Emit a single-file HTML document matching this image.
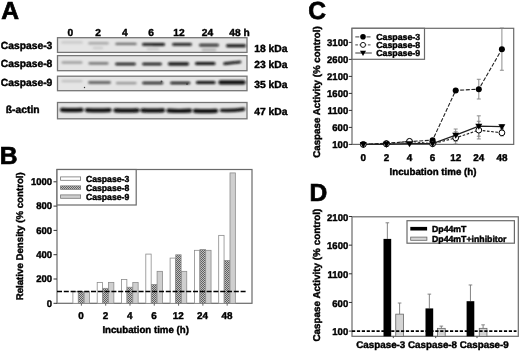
<!DOCTYPE html>
<html><head><meta charset="utf-8"><title>Figure</title>
<style>
html,body{margin:0;padding:0;background:#fff;}
body{width:520px;height:352px;overflow:hidden;}
svg{display:block;}
svg text{font-family:"Liberation Sans",Arial,sans-serif;font-weight:bold;fill:#000;stroke:#000;stroke-width:0.42px;text-rendering:geometricPrecision;}
</style></head><body>
<svg width="520" height="352" viewBox="0 0 520 352">
<defs>
<filter id="b1" filterUnits="userSpaceOnUse" x="50" y="30" width="210" height="100"><feGaussianBlur stdDeviation="1.2 0.8"/></filter>
<filter id="b2" x="-20%" y="-200%" width="140%" height="500%"><feGaussianBlur stdDeviation="1.6 1.2"/></filter>
<pattern id="hatch" width="2" height="2" patternUnits="userSpaceOnUse">
<rect width="2" height="2" fill="#c0c0c0"/><rect width="1" height="1" fill="#606060"/><rect x="1" y="1" width="1" height="1" fill="#606060"/>
</pattern>
</defs>
<rect width="520" height="352" fill="#fff"/>

<text transform="translate(1.2,19.3) scale(1.0,1)" font-size="24.6" text-anchor="start" style="stroke-width:0.7px">A</text>
<text transform="translate(-0.3,164.3) scale(1.0,1)" font-size="24.6" text-anchor="start" style="stroke-width:0.7px">B</text>
<text transform="translate(308.2,19.2) scale(1.0,1)" font-size="24.6" text-anchor="start" style="stroke-width:0.7px">C</text>
<text transform="translate(309.6,201.1) scale(1.0,1)" font-size="24.6" text-anchor="start" style="stroke-width:0.7px">D</text>
<text transform="translate(70.3,35.6) scale(1.0,1)" font-size="10.2" text-anchor="middle" >0</text>
<text transform="translate(98,35.6) scale(1.0,1)" font-size="10.2" text-anchor="middle" >2</text>
<text transform="translate(124.8,35.6) scale(1.0,1)" font-size="10.2" text-anchor="middle" >4</text>
<text transform="translate(151.2,35.6) scale(1.0,1)" font-size="10.2" text-anchor="middle" >6</text>
<text transform="translate(179,35.6) scale(1.0,1)" font-size="10.2" text-anchor="middle" >12</text>
<text transform="translate(207.5,35.6) scale(1.0,1)" font-size="10.2" text-anchor="middle" >24</text>
<text transform="translate(229.3,35.6) scale(1.0,1)" font-size="10.2" text-anchor="start" >48 h</text>
<rect x="57.5" y="37.7" width="189.5" height="14.699999999999996" fill="#e5e5e5" stroke="#757575" stroke-width="1.3"/>
<text transform="translate(0.8,49.35) scale(1.0,1)" font-size="10.3" text-anchor="start" >Caspase-3</text>
<rect x="57.5" y="55.6" width="189.5" height="15.100000000000001" fill="#e5e5e5" stroke="#757575" stroke-width="1.3"/>
<text transform="translate(0.8,67.45) scale(1.0,1)" font-size="10.3" text-anchor="start" >Caspase-8</text>
<rect x="57.5" y="76.2" width="189.5" height="14.5" fill="#e5e5e5" stroke="#757575" stroke-width="1.3"/>
<text transform="translate(0.8,86.25) scale(1.0,1)" font-size="10.3" text-anchor="start" >Caspase-9</text>
<rect x="57.5" y="102.5" width="189.5" height="16.299999999999997" fill="#e5e5e5" stroke="#757575" stroke-width="1.3"/>
<text transform="translate(5.8,112.85000000000001) scale(1.0,1)" font-size="10.3" text-anchor="start" >ß-actin</text>
<text transform="translate(254.3,52.0) scale(1.0,1)" font-size="10.3" text-anchor="start" >18 kDa</text>
<text transform="translate(254.3,68.4) scale(1.0,1)" font-size="10.3" text-anchor="start" >23 kDa</text>
<text transform="translate(254.3,88.1) scale(1.0,1)" font-size="10.3" text-anchor="start" >35 kDa</text>
<text transform="translate(254.3,114.7) scale(1.0,1)" font-size="10.3" text-anchor="start" >47 kDa</text>
<g filter="url(#b1)">
<path d="M62.5 42.40Q72.0 42.40 81.5 42.40" stroke="#0a0a0a" stroke-width="2.8" stroke-linecap="round" fill="none" opacity="0.11199999999999999"/>
<path d="M89.5 43.30Q98.5 43.30 107.5 43.30" stroke="#0a0a0a" stroke-width="2.6" stroke-linecap="round" fill="none" opacity="0.27999999999999997"/>
<path d="M116.5 43.90Q126.0 43.90 135.5 43.90" stroke="#0a0a0a" stroke-width="2.4" stroke-linecap="round" fill="none" opacity="0.5319999999999999"/>
<path d="M143.5 44.40Q153.5 44.40 163.5 44.40" stroke="#0a0a0a" stroke-width="2.8" stroke-linecap="round" fill="none" opacity="0.9799999999999999"/>
<path d="M153.5 44.50Q158.5 44.50 163.5 44.50" stroke="#0a0a0a" stroke-width="2.4" stroke-linecap="round" fill="none" opacity="0.7"/>
<path d="M173.5 44.40Q182.0 44.40 190.5 44.40" stroke="#0a0a0a" stroke-width="2.6" stroke-linecap="round" fill="none" opacity="0.952"/>
<path d="M200.5 45.20Q209.0 45.20 217.5 45.20" stroke="#0a0a0a" stroke-width="2.8" stroke-linecap="round" fill="none" opacity="0.868"/>
<path d="M227.5 45.80Q236.0 45.80 244.5 45.80" stroke="#0a0a0a" stroke-width="3.0" stroke-linecap="round" fill="none" opacity="1"/>
<path d="M202.5 49.80Q209.0 49.80 215.5 49.80" stroke="#0a0a0a" stroke-width="1.8" stroke-linecap="round" fill="none" opacity="0.308"/>
<path d="M147.5 49.00Q153.0 49.00 158.5 49.00" stroke="#0a0a0a" stroke-width="1.6" stroke-linecap="round" fill="none" opacity="0.196"/>
<path d="M93.5 48.00Q98.0 48.00 102.5 48.00" stroke="#0a0a0a" stroke-width="1.6" stroke-linecap="round" fill="none" opacity="0.16799999999999998"/>
<path d="M62.5 62.50Q72.0 62.50 81.5 62.50" stroke="#0a0a0a" stroke-width="2.0" stroke-linecap="round" fill="none" opacity="0.392"/>
<path d="M89.5 63.30Q98.5 63.30 107.5 63.30" stroke="#0a0a0a" stroke-width="2.2" stroke-linecap="round" fill="none" opacity="0.5599999999999999"/>
<path d="M116.5 64.00Q125.5 64.00 134.5 64.00" stroke="#0a0a0a" stroke-width="2.6" stroke-linecap="round" fill="none" opacity="0.9799999999999999"/>
<path d="M143.5 64.00Q152.0 64.00 160.5 64.00" stroke="#0a0a0a" stroke-width="2.6" stroke-linecap="round" fill="none" opacity="1"/>
<path d="M169.5 63.80Q178.5 63.80 187.5 63.80" stroke="#0a0a0a" stroke-width="3.2" stroke-linecap="round" fill="none" opacity="1"/>
<path d="M196.5 63.60Q205.25 63.60 214.0 63.60" stroke="#0a0a0a" stroke-width="3.0" stroke-linecap="round" fill="none" opacity="1"/>
<path d="M224.5 63.60Q232.25 62.80 240.0 62.00" stroke="#0a0a0a" stroke-width="2.6" stroke-linecap="round" fill="none" opacity="1"/>
<path d="M62.5 81.10Q72.0 81.10 81.5 81.10" stroke="#0a0a0a" stroke-width="2.2" stroke-linecap="round" fill="none" opacity="0.16799999999999998"/>
<path d="M89.5 82.50Q99.5 82.50 109.5 82.50" stroke="#0a0a0a" stroke-width="2.8" stroke-linecap="round" fill="none" opacity="0.5599999999999999"/>
<path d="M117.0 83.10Q126.25 83.10 135.5 83.10" stroke="#0a0a0a" stroke-width="2.4" stroke-linecap="round" fill="none" opacity="0.364"/>
<path d="M143.5 83.00Q152.75 83.00 162.0 83.00" stroke="#0a0a0a" stroke-width="2.6" stroke-linecap="round" fill="none" opacity="0.9239999999999999"/>
<path d="M171.5 83.00Q180.25 83.00 189.0 83.00" stroke="#0a0a0a" stroke-width="2.6" stroke-linecap="round" fill="none" opacity="0.9799999999999999"/>
<path d="M197.5 82.50Q205.75 82.50 214.0 82.50" stroke="#0a0a0a" stroke-width="3.2" stroke-linecap="round" fill="none" opacity="1"/>
<path d="M220.5 82.40Q232.0 82.40 243.5 82.40" stroke="#0a0a0a" stroke-width="4.2" stroke-linecap="round" fill="none" opacity="1"/>
<path d="M62.0 109.90Q71.75 110.50 81.5 109.90" stroke="#0a0a0a" stroke-width="4.2" stroke-linecap="round" fill="none" opacity="1"/>
<path d="M87.0 110.10Q98.25 110.70 109.5 110.10" stroke="#0a0a0a" stroke-width="4.2" stroke-linecap="round" fill="none" opacity="1"/>
<path d="M115.5 110.30Q126.5 110.90 137.5 110.30" stroke="#0a0a0a" stroke-width="4.2" stroke-linecap="round" fill="none" opacity="1"/>
<path d="M142.5 110.40Q152.75 111.00 163.0 110.40" stroke="#0a0a0a" stroke-width="4.2" stroke-linecap="round" fill="none" opacity="1"/>
<path d="M168.5 110.70Q179.25 111.30 190.0 110.70" stroke="#0a0a0a" stroke-width="4.2" stroke-linecap="round" fill="none" opacity="1"/>
<path d="M195.0 110.80Q205.5 111.40 216.0 110.80" stroke="#0a0a0a" stroke-width="4.2" stroke-linecap="round" fill="none" opacity="1"/>
<path d="M221.5 110.40Q232.5 111.00 243.5 109.20" stroke="#0a0a0a" stroke-width="3.4" stroke-linecap="round" fill="none" opacity="1"/>
</g>
<circle cx="84.5" cy="87.5" r="0.7" fill="#333"/>
<circle cx="161.5" cy="81.5" r="0.9" fill="#333" opacity="0.8"/>
<circle cx="187" cy="84" r="0.9" fill="#333" opacity="0.8"/>
<rect x="57" y="169.5" width="195" height="133.8" fill="#fff" stroke="#6a6a6a" stroke-width="1.2"/>
<line x1="53.5" y1="303.3" x2="57" y2="303.3" stroke="#333" stroke-width="1"/>
<text transform="translate(52.1,306.5) scale(0.97,1)" font-size="9.8" text-anchor="end" >0</text>
<line x1="53.5" y1="279.0" x2="57" y2="279.0" stroke="#333" stroke-width="1"/>
<text transform="translate(52.1,282.2) scale(0.97,1)" font-size="9.8" text-anchor="end" >200</text>
<line x1="53.5" y1="254.70000000000002" x2="57" y2="254.70000000000002" stroke="#333" stroke-width="1"/>
<text transform="translate(52.1,257.90000000000003) scale(0.97,1)" font-size="9.8" text-anchor="end" >400</text>
<line x1="53.5" y1="230.40000000000003" x2="57" y2="230.40000000000003" stroke="#333" stroke-width="1"/>
<text transform="translate(52.1,233.60000000000002) scale(0.97,1)" font-size="9.8" text-anchor="end" >600</text>
<line x1="53.5" y1="206.10000000000002" x2="57" y2="206.10000000000002" stroke="#333" stroke-width="1"/>
<text transform="translate(52.1,209.3) scale(0.97,1)" font-size="9.8" text-anchor="end" >800</text>
<line x1="53.5" y1="181.8" x2="57" y2="181.8" stroke="#333" stroke-width="1"/>
<text transform="translate(52.1,185.0) scale(0.97,1)" font-size="9.8" text-anchor="end" >1000</text>
<rect x="57" y="169.5" width="79.19999999999999" height="35.5" fill="#fff" stroke="#6a6a6a" stroke-width="1.2"/>
<rect x="60.6" y="176.9" width="20" height="3.4" fill="#fff" stroke="#777" stroke-width="0.8"/>
<text transform="translate(86,181.75) scale(0.982,1)" font-size="8.8" text-anchor="start" >Caspase-3</text>
<rect x="60.6" y="185.9" width="20" height="3.4" fill="url(#hatch)" stroke="#777" stroke-width="0.8"/>
<text transform="translate(86,190.75) scale(0.982,1)" font-size="8.8" text-anchor="start" >Caspase-8</text>
<rect x="60.6" y="194.9" width="20" height="3.4" fill="#cfcfcf" stroke="#777" stroke-width="0.8"/>
<text transform="translate(86,199.75) scale(0.982,1)" font-size="8.8" text-anchor="start" >Caspase-9</text>
<rect x="72.90" y="291.75" width="5.3500000000000005" height="11.55" fill="#fff" stroke="#8c8c8c" stroke-width="0.8"/>
<rect x="78.55" y="291.75" width="5.3500000000000005" height="11.55" fill="url(#hatch)" stroke="#8c8c8c" stroke-width="0.8"/>
<rect x="84.20" y="291.75" width="5.3500000000000005" height="11.55" fill="#cfcfcf" stroke="#8c8c8c" stroke-width="0.8"/>
<rect x="97.20" y="282.39" width="5.3500000000000005" height="20.91" fill="#fff" stroke="#8c8c8c" stroke-width="0.8"/>
<rect x="102.85" y="288.35" width="5.3500000000000005" height="14.95" fill="url(#hatch)" stroke="#8c8c8c" stroke-width="0.8"/>
<rect x="108.50" y="282.39" width="5.3500000000000005" height="20.91" fill="#cfcfcf" stroke="#8c8c8c" stroke-width="0.8"/>
<rect x="121.50" y="279.48" width="5.3500000000000005" height="23.82" fill="#fff" stroke="#8c8c8c" stroke-width="0.8"/>
<rect x="127.15" y="287.25" width="5.3500000000000005" height="16.05" fill="url(#hatch)" stroke="#8c8c8c" stroke-width="0.8"/>
<rect x="132.80" y="282.39" width="5.3500000000000005" height="20.91" fill="#cfcfcf" stroke="#8c8c8c" stroke-width="0.8"/>
<rect x="145.80" y="254.09" width="5.3500000000000005" height="49.22" fill="#fff" stroke="#8c8c8c" stroke-width="0.8"/>
<rect x="151.45" y="284.46" width="5.3500000000000005" height="18.84" fill="url(#hatch)" stroke="#8c8c8c" stroke-width="0.8"/>
<rect x="157.10" y="271.34" width="5.3500000000000005" height="31.96" fill="#cfcfcf" stroke="#8c8c8c" stroke-width="0.8"/>
<rect x="170.10" y="258.09" width="5.3500000000000005" height="45.21" fill="#fff" stroke="#8c8c8c" stroke-width="0.8"/>
<rect x="175.75" y="254.81" width="5.3500000000000005" height="48.49" fill="url(#hatch)" stroke="#8c8c8c" stroke-width="0.8"/>
<rect x="181.40" y="271.34" width="5.3500000000000005" height="31.96" fill="#cfcfcf" stroke="#8c8c8c" stroke-width="0.8"/>
<rect x="194.40" y="250.32" width="5.3500000000000005" height="52.98" fill="#fff" stroke="#8c8c8c" stroke-width="0.8"/>
<rect x="200.05" y="249.59" width="5.3500000000000005" height="53.71" fill="url(#hatch)" stroke="#8c8c8c" stroke-width="0.8"/>
<rect x="205.70" y="250.32" width="5.3500000000000005" height="52.98" fill="#cfcfcf" stroke="#8c8c8c" stroke-width="0.8"/>
<rect x="218.70" y="235.37" width="5.3500000000000005" height="67.93" fill="#fff" stroke="#8c8c8c" stroke-width="0.8"/>
<rect x="224.35" y="260.52" width="5.3500000000000005" height="42.78" fill="url(#hatch)" stroke="#8c8c8c" stroke-width="0.8"/>
<rect x="230.00" y="172.92" width="5.3500000000000005" height="130.38" fill="#cfcfcf" stroke="#8c8c8c" stroke-width="0.8"/>
<line x1="57" y1="291.4" x2="247" y2="291.4" stroke="#000" stroke-width="1.45" stroke-dasharray="5 1.8"/>
<line x1="81.38" y1="303.3" x2="81.38" y2="305.7" stroke="#555" stroke-width="0.9"/>
<line x1="105.68" y1="303.3" x2="105.68" y2="305.7" stroke="#555" stroke-width="0.9"/>
<line x1="129.97" y1="303.3" x2="129.97" y2="305.7" stroke="#555" stroke-width="0.9"/>
<line x1="154.28" y1="303.3" x2="154.28" y2="305.7" stroke="#555" stroke-width="0.9"/>
<line x1="178.58" y1="303.3" x2="178.58" y2="305.7" stroke="#555" stroke-width="0.9"/>
<line x1="202.88" y1="303.3" x2="202.88" y2="305.7" stroke="#555" stroke-width="0.9"/>
<line x1="227.18" y1="303.3" x2="227.18" y2="305.7" stroke="#555" stroke-width="0.9"/>
<text transform="translate(81.075,318.9) scale(1.0,1)" font-size="9.9" text-anchor="middle" >0</text>
<text transform="translate(105.37500000000001,318.9) scale(1.0,1)" font-size="9.9" text-anchor="middle" >2</text>
<text transform="translate(129.67499999999998,318.9) scale(1.0,1)" font-size="9.9" text-anchor="middle" >4</text>
<text transform="translate(153.975,318.9) scale(1.0,1)" font-size="9.9" text-anchor="middle" >6</text>
<text transform="translate(178.275,318.9) scale(1.0,1)" font-size="9.9" text-anchor="middle" >12</text>
<text transform="translate(202.575,318.9) scale(1.0,1)" font-size="9.9" text-anchor="middle" >24</text>
<text transform="translate(226.875,318.9) scale(1.0,1)" font-size="9.9" text-anchor="middle" >48</text>
<text transform="translate(102.4,333.3) scale(0.998,1)" font-size="9.7" text-anchor="start" >Incubation time (h)</text>
<text transform="translate(23.4,236.3) rotate(-90) scale(1,1)" font-size="9.7" text-anchor="middle">Relative Density (% control)</text>
<rect x="352" y="28.3" width="161.70000000000005" height="116.10000000000001" fill="#fff" stroke="#6a6a6a" stroke-width="1.2"/>
<line x1="348.8" y1="144.4" x2="352" y2="144.4" stroke="#333" stroke-width="1"/>
<text transform="translate(348.2,147.6) scale(0.97,1)" font-size="9.8" text-anchor="end" >100</text>
<line x1="348.8" y1="127.4" x2="352" y2="127.4" stroke="#333" stroke-width="1"/>
<text transform="translate(348.2,130.6) scale(0.97,1)" font-size="9.8" text-anchor="end" >600</text>
<line x1="348.8" y1="110.4" x2="352" y2="110.4" stroke="#333" stroke-width="1"/>
<text transform="translate(348.2,113.60000000000001) scale(0.97,1)" font-size="9.8" text-anchor="end" >1100</text>
<line x1="348.8" y1="93.4" x2="352" y2="93.4" stroke="#333" stroke-width="1"/>
<text transform="translate(348.2,96.60000000000001) scale(0.97,1)" font-size="9.8" text-anchor="end" >1600</text>
<line x1="348.8" y1="76.4" x2="352" y2="76.4" stroke="#333" stroke-width="1"/>
<text transform="translate(348.2,79.60000000000001) scale(0.97,1)" font-size="9.8" text-anchor="end" >2100</text>
<line x1="348.8" y1="59.400000000000006" x2="352" y2="59.400000000000006" stroke="#333" stroke-width="1"/>
<text transform="translate(348.2,62.60000000000001) scale(0.97,1)" font-size="9.8" text-anchor="end" >2600</text>
<line x1="348.8" y1="42.400000000000006" x2="352" y2="42.400000000000006" stroke="#333" stroke-width="1"/>
<text transform="translate(348.2,45.60000000000001) scale(0.97,1)" font-size="9.8" text-anchor="end" >3100</text>
<text transform="translate(363.3,160.7) scale(1.0,1)" font-size="9.9" text-anchor="middle" >0</text>
<text transform="translate(386.40000000000003,160.7) scale(1.0,1)" font-size="9.9" text-anchor="middle" >2</text>
<text transform="translate(409.5,160.7) scale(1.0,1)" font-size="9.9" text-anchor="middle" >4</text>
<text transform="translate(432.6,160.7) scale(1.0,1)" font-size="9.9" text-anchor="middle" >6</text>
<text transform="translate(455.70000000000005,160.7) scale(1.0,1)" font-size="9.9" text-anchor="middle" >12</text>
<text transform="translate(478.8,160.7) scale(1.0,1)" font-size="9.9" text-anchor="middle" >24</text>
<text transform="translate(501.90000000000003,160.7) scale(1.0,1)" font-size="9.9" text-anchor="middle" >48</text>
<text transform="translate(389.5,174.9) scale(1.0,1)" font-size="9.72" text-anchor="start" >Incubation time (h)</text>
<text transform="translate(319.7,92.1) rotate(-90) scale(1,1)" font-size="9.77" text-anchor="middle">Caspase Activity (% control)</text>
<path d="M478.8 79.29V99.01M476.8 79.29H480.8M476.8 99.01H480.8" stroke="#808080" stroke-width="0.9" fill="none"/>
<path d="M501.90000000000003 28.09V70.25M499.90000000000003 28.09H503.90000000000003M499.90000000000003 70.25H503.90000000000003" stroke="#808080" stroke-width="0.9" fill="none"/>
<path d="M455.70000000000005 131.79V144.03M453.70000000000005 131.79H457.70000000000005M453.70000000000005 144.03H457.70000000000005" stroke="#808080" stroke-width="0.9" fill="none"/>
<path d="M478.8 121.28V138.96M476.8 121.28H480.8M476.8 138.96H480.8" stroke="#808080" stroke-width="0.9" fill="none"/>
<path d="M501.90000000000003 129.78V135.90M499.90000000000003 129.78H503.90000000000003M499.90000000000003 135.90H503.90000000000003" stroke="#808080" stroke-width="0.9" fill="none"/>
<path d="M455.70000000000005 129.03V141.27M453.70000000000005 129.03H457.70000000000005M453.70000000000005 141.27H457.70000000000005" stroke="#808080" stroke-width="0.9" fill="none"/>
<path d="M478.8 115.84V136.24M476.8 115.84H480.8M476.8 136.24H480.8" stroke="#808080" stroke-width="0.9" fill="none"/>
<path d="M501.90000000000003 124.61V128.69M499.90000000000003 124.61H503.90000000000003M499.90000000000003 128.69H503.90000000000003" stroke="#808080" stroke-width="0.9" fill="none"/>
<polyline points="363.30,144.40 386.40,143.21 409.50,141.51 432.60,140.15 455.70,90.41 478.80,89.15 501.90,49.17" fill="none" stroke="#222" stroke-width="1.1" stroke-dasharray="4 1.6"/>
<polyline points="363.30,144.40 386.40,143.99 409.50,141.34 432.60,143.79 455.70,137.91 478.80,130.12 501.90,132.84" fill="none" stroke="#222" stroke-width="1.1" stroke-dasharray="2.6 1.6"/>
<polyline points="363.30,144.40 386.40,144.23 409.50,143.55 432.60,143.65 455.70,135.15 478.80,126.04 501.90,126.65" fill="none" stroke="#222" stroke-width="1.3"/>
<circle cx="363.30" cy="144.40" r="3" fill="#000"/>
<circle cx="386.40" cy="143.21" r="3" fill="#000"/>
<circle cx="409.50" cy="141.51" r="3" fill="#000"/>
<circle cx="432.60" cy="140.15" r="3" fill="#000"/>
<circle cx="455.70" cy="90.41" r="3" fill="#000"/>
<circle cx="478.80" cy="89.15" r="3" fill="#000"/>
<circle cx="501.90" cy="49.17" r="3" fill="#000"/>
<circle cx="363.30" cy="144.40" r="2.9" fill="#fff" stroke="#000" stroke-width="1"/>
<circle cx="386.40" cy="143.99" r="2.9" fill="#fff" stroke="#000" stroke-width="1"/>
<circle cx="409.50" cy="141.34" r="2.9" fill="#fff" stroke="#000" stroke-width="1"/>
<circle cx="432.60" cy="143.79" r="2.9" fill="#fff" stroke="#000" stroke-width="1"/>
<circle cx="455.70" cy="137.91" r="2.9" fill="#fff" stroke="#000" stroke-width="1"/>
<circle cx="478.80" cy="130.12" r="2.9" fill="#fff" stroke="#000" stroke-width="1"/>
<circle cx="501.90" cy="132.84" r="2.9" fill="#fff" stroke="#000" stroke-width="1"/>
<path d="M359.80 142.00H366.80L363.30 148.00Z" fill="#000"/>
<path d="M382.90 141.83H389.90L386.40 147.83Z" fill="#000"/>
<path d="M406.00 141.15H413.00L409.50 147.15Z" fill="#000"/>
<path d="M429.10 141.25H436.10L432.60 147.25Z" fill="#000"/>
<path d="M452.20 132.75H459.20L455.70 138.75Z" fill="#000"/>
<path d="M475.30 123.64H482.30L478.80 129.64Z" fill="#000"/>
<path d="M498.40 124.25H505.40L501.90 130.25Z" fill="#000"/>
<rect x="352" y="28.3" width="72.5" height="30.999999999999996" fill="#fff" stroke="#6a6a6a" stroke-width="1.2"/>
<line x1="355.3" y1="36.8" x2="371.8" y2="36.8" stroke="#666" stroke-width="1.3" stroke-dasharray="4 1.6"/>
<circle cx="363" cy="36.8" r="2.8" fill="#000"/>
<text transform="translate(376.2,40.0) scale(1.0,1)" font-size="8.78" text-anchor="start" >Caspase-3</text>
<line x1="355.3" y1="44.9" x2="371.8" y2="44.9" stroke="#666" stroke-width="1.3" stroke-dasharray="2.6 1.6"/>
<circle cx="363" cy="44.9" r="2.5" fill="#fff" stroke="#000" stroke-width="0.9"/>
<text transform="translate(376.2,48.1) scale(1.0,1)" font-size="8.78" text-anchor="start" >Caspase-8</text>
<line x1="355.3" y1="53.0" x2="371.8" y2="53.0" stroke="#666" stroke-width="1.3"/>
<path d="M360 50.8H366L363 56.0Z" fill="#000"/>
<text transform="translate(376.2,56.2) scale(1.0,1)" font-size="8.78" text-anchor="start" >Caspase-9</text>
<rect x="352" y="216.8" width="166.29999999999995" height="119.5" fill="#fff" stroke="#6a6a6a" stroke-width="1.2"/>
<line x1="348.8" y1="331.1" x2="352" y2="331.1" stroke="#333" stroke-width="1"/>
<text transform="translate(348.2,335.25) scale(0.97,1)" font-size="9.8" text-anchor="end" >100</text>
<line x1="348.8" y1="302.45000000000005" x2="352" y2="302.45000000000005" stroke="#333" stroke-width="1"/>
<text transform="translate(348.2,306.6) scale(0.97,1)" font-size="9.8" text-anchor="end" >600</text>
<line x1="348.8" y1="273.8" x2="352" y2="273.8" stroke="#333" stroke-width="1"/>
<text transform="translate(348.2,277.95) scale(0.97,1)" font-size="9.8" text-anchor="end" >1100</text>
<line x1="348.8" y1="245.15000000000003" x2="352" y2="245.15000000000003" stroke="#333" stroke-width="1"/>
<text transform="translate(348.2,249.30000000000004) scale(0.97,1)" font-size="9.8" text-anchor="end" >1600</text>
<line x1="348.8" y1="216.50000000000003" x2="352" y2="216.50000000000003" stroke="#333" stroke-width="1"/>
<text transform="translate(348.2,220.65000000000003) scale(0.97,1)" font-size="9.8" text-anchor="end" >2100</text>
<text transform="translate(319.7,275.1) rotate(-90) scale(1,1)" font-size="9.89" text-anchor="middle">Caspase Activity (% control)</text>
<path d="M387.35 238.90V222.80M385.55 222.80H389.15" stroke="#777" stroke-width="0.9" fill="none"/>
<path d="M399.60 314.14V303.02M397.80 303.02H401.40" stroke="#777" stroke-width="0.9" fill="none"/>
<rect x="383.5" y="238.90" width="7.7" height="97.40" fill="#000"/>
<rect x="395.75" y="314.14" width="7.7" height="22.16" fill="#d4d4d4" stroke="#666" stroke-width="0.8"/>
<path d="M429.35 308.41V294.14M427.55 294.14H431.15" stroke="#777" stroke-width="0.9" fill="none"/>
<path d="M441.35 328.35V326.11M439.55 326.11H443.15" stroke="#777" stroke-width="0.9" fill="none"/>
<rect x="425.5" y="308.41" width="7.7" height="27.89" fill="#000"/>
<rect x="437.5" y="328.35" width="7.7" height="7.95" fill="#d4d4d4" stroke="#666" stroke-width="0.8"/>
<path d="M470.45 301.19V284.97M468.65 284.97H472.25" stroke="#777" stroke-width="0.9" fill="none"/>
<path d="M483.10 328.35V324.85M481.30 324.85H484.90" stroke="#777" stroke-width="0.9" fill="none"/>
<rect x="466.6" y="301.19" width="7.7" height="35.11" fill="#000"/>
<rect x="479.25" y="328.35" width="7.7" height="7.95" fill="#d4d4d4" stroke="#666" stroke-width="0.8"/>
<line x1="393.3" y1="336.3" x2="393.3" y2="338.1" stroke="#444" stroke-width="1"/>
<line x1="435.7" y1="336.3" x2="435.7" y2="338.1" stroke="#444" stroke-width="1"/>
<line x1="477" y1="336.3" x2="477" y2="338.1" stroke="#444" stroke-width="1"/>
<line x1="352" y1="331.1" x2="516.5" y2="331.1" stroke="#000" stroke-width="1.8" stroke-dasharray="3.2 1.7"/>
<rect x="407" y="220.7" width="107.4" height="22.5" fill="#fff" stroke="#6a6a6a" stroke-width="1.2"/>
<rect x="410.3" y="226.9" width="16.8" height="3.6" fill="#000"/>
<rect x="410.7" y="237.1" width="16.2" height="3.2" fill="#d4d4d4" stroke="#666" stroke-width="0.8"/>
<text transform="translate(432,232.2) scale(1.0,1)" font-size="8.74" text-anchor="start" >Dp44mT</text>
<text transform="translate(432,242.1) scale(1.0,1)" font-size="8.74" text-anchor="start" >Dp44mT+inhibitor</text>
<text transform="translate(356.3,348.2) scale(1.0,1)" font-size="9.8" text-anchor="start" >Caspase-3 Caspase-8 Caspase-9</text>
</svg></body></html>
